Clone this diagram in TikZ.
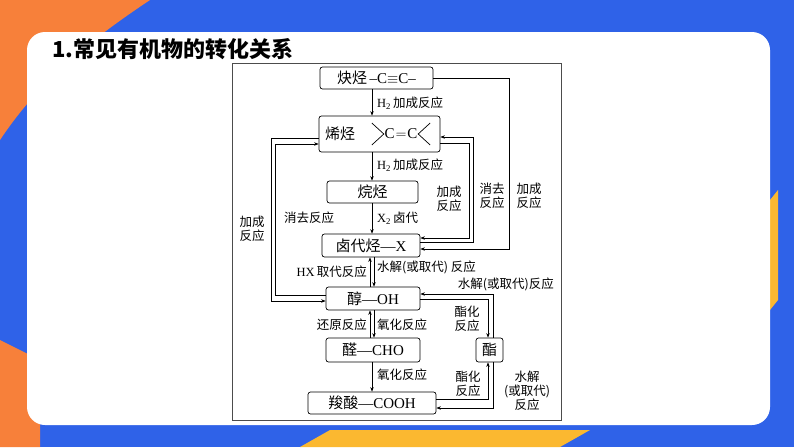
\documentclass[tikz,border=0pt]{standalone}
\usepackage{fontspec}
\setmainfont{Liberation Serif}
\newfontfamily\cj{Noto Sans CJK SC}
\usetikzlibrary{arrows.meta}
\definecolor{bgblue}{HTML}{2F62E8}
\definecolor{bgorange}{HTML}{F7803A}
\definecolor{bgyellow}{HTML}{FBB830}
\tikzset{
  box/.style={draw, rounded corners=2.5pt, line width=0.7pt, inner sep=0pt, font=\fontsize{15}{15}\selectfont},
  lab/.style={font=\cj\fontsize{12.5}{14}\selectfont, inner sep=0pt, align=center},
  ln/.style={line width=0.7pt},
  arr/.style={line width=0.7pt, -{Stealth[length=4.5pt,width=3.5pt]}}
}
\begin{document}
\begin{tikzpicture}[x=1pt,y=-1pt]
\useasboundingbox (0,0) rectangle (794,447);
\fill[bgblue] (0,0) rectangle (794,447);
\fill[bgorange] (0,0) -- (150,0) .. controls (90,40) and (40,80) .. (0,140) -- cycle;
\fill[bgorange] (0,340) -- (40,360) -- (40,447) -- (0,447) -- cycle;
\fill[bgyellow] (330,430) -- (590,430) -- (560,447) -- (300,447) -- cycle;
\fill[bgyellow] (770,200) -- (778,190) -- (778,300) -- (770,310) -- cycle;
\fill[white, rounded corners=18pt] (27,32) rectangle (770,425);
\node[anchor=west, font=\cj\bfseries\fontsize{22}{22}\selectfont, inner sep=0pt] (title) at (52,49) {1.常见有机物的转化关系};
\draw[line width=0.6pt, black!70] (232,63) rectangle (561,420);
% nodes
\node[box, minimum width=113pt, minimum height=22pt] (yne) at (376.5,78) {{\cj 炔烃}\,–C$\equiv$C–};
\node[box, minimum width=121pt, minimum height=36pt] (ene) at (379.5,134) {};
\node[font=\cj\fontsize{15}{15}\selectfont, anchor=west, inner sep=0pt] (enet) at (325,134) {烯烃};
\node[font=\fontsize{15}{15}\selectfont, inner sep=0.5pt] (cc) at (401,134) {C\hspace{1pt}$=$\hspace{1pt}C};
\draw[ln] (cc.west) ++(-12,-11) -- (cc.west) -- ++(-12,11);
\draw[ln] (cc.east) ++(12,-11) -- (cc.east) -- ++(12,11);
\node[box, minimum width=91pt, minimum height=22pt] (ane) at (372.5,192) {\cj 烷烃};
\node[box, minimum width=98pt, minimum height=23pt] (hal) at (371,245.5) {{\cj 卤代烃}—X};
\node[box, minimum width=94pt, minimum height=23pt] (alc) at (373,298.5) {{\cj 醇}—OH};
\node[box, minimum width=94pt, minimum height=24pt] (ald) at (373,350) {{\cj 醛}—CHO};
\node[box, minimum width=128pt, minimum height=22pt] (acd) at (372,403) {{\cj 羧酸}—COOH};
\node[box, minimum width=27pt, minimum height=24pt] (est) at (489.5,350) {\cj 酯};
% main chain
\draw[arr] (yne.south -| 372,0) -- (ene.north -| 372,0);
\draw[arr] (ene.south -| 372,0) -- (ane.north -| 372,0);
\draw[arr] (ane.south -| 372,0) -- (hal.north -| 372,0);
\draw[arr] (alc.north -| 370,0) -- (hal.south -| 370,0);
\draw[arr] (hal.south -| 374,0) -- (alc.north -| 374,0);
\draw[arr] (ald.north -| 370,0) -- (alc.south -| 370,0);
\draw[arr] (alc.south -| 374,0) -- (ald.north -| 374,0);
\draw[arr] (ald.south -| 372,0) -- (acd.north -| 372,0);
% right loops
\draw[arr] (yne.east) -- (509,78) -- (509,249) -- (hal.east |- 0,249);
\draw[arr] (hal.east |- 0,242) -- (473,242) -- (473,137) -- (ene.east |- 0,137);
\draw[arr] (ene.east |- 0,143) -- (469,143) -- (469,238) -- (hal.east |- 0,238);
% left loops
\draw[arr] (ene.west |- 0,138) -- (271,138) -- (271,301) -- (alc.west |- 0,301);
\draw[arr] (alc.west |- 0,295) -- (275,295) -- (275,144) -- (ene.west |- 0,144);
% ester
\draw[arr] (est.north -| 493,0) -- (493,294) -- (alc.east |- 0,294);
\draw[arr] (alc.east |- 0,299) -- (488,299) -- (est.north -| 488,0);
\draw[arr] (acd.east |- 0,399) -- (488,399) -- (est.south -| 488,0);
\draw[arr] (est.south -| 493,0) -- (493,408) -- (acd.east |- 0,408);
% labels
\node[lab, anchor=west] (l1) at (377,103) {\rmfamily H\textsubscript{2}\,{\cj 加成反应}};
\node[lab, anchor=west] (l2) at (377,165) {\rmfamily H\textsubscript{2}\,{\cj 加成反应}};
\node[lab, anchor=west] (l3) at (377,218) {\rmfamily X\textsubscript{2}\,{\cj 卤代}};
\node[lab] (l4) at (449,199) {加成\\反应};
\node[lab] (l5) at (492,196) {消去\\反应};
\node[lab] (l6) at (529,196) {加成\\反应};
\node[lab] (l7) at (252,229) {加成\\反应};
\node[lab] (l8) at (309,218) {消去反应};
\node[lab, anchor=east] (l9) at (367,272) {\rmfamily HX\,{\cj 取代反应}};
\node[lab, anchor=west] (l10) at (377,267) {水解(或取代) 反应};
\node[lab, anchor=east] (l11) at (554,284) {水解(或取代)反应};
\node[lab] (l12) at (467,319) {酯化\\反应};
\node[lab, anchor=east] (l13) at (367,325) {还原反应};
\node[lab, anchor=west] (l14) at (377,325) {氧化反应};
\node[lab, anchor=west] (l15) at (377,375) {氧化反应};
\node[lab] (l16) at (468,384) {酯化\\反应};
\node[lab] (l17) at (527,391) {水解\\(或取代)\\反应};
\end{tikzpicture}
\end{document}
